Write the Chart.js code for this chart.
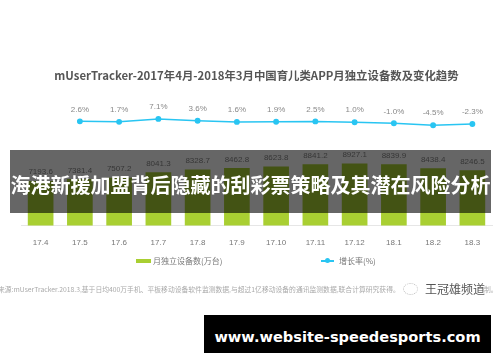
<!DOCTYPE html>
<html>
<head>
<meta charset="utf-8">
<script src="https://cdn.jsdelivr.net/npm/chart.js@4"></script>
<style>
html, body { margin: 0; padding: 0; background: #fff; }
#wrap { position: relative; width: 500px; height: 362px; overflow: hidden; font-family: "Noto Sans CJK SC", "Noto Sans", sans-serif; }
#grafica { position: absolute; left: 0; top: 0; filter: blur(0.5px); }
.abs { position: absolute; white-space: nowrap; }
#banda { left: 10px; top: 150px; width: 481px; height: 63px; background: rgba(0,0,0,0.6); }
#titular { left: 10px; top: 150px; width: 481px; height: 70px; line-height: 70px; text-align: center; color: #fff; font-size: 20px; font-weight: bold; }
#web { left: 204px; top: 315px; width: 287px; height: 38px; background: #000; color: #fff; text-align: center; font: bold 14.6px/43px "DejaVu Sans", sans-serif; }
.leyenda { top: 253px; height: 16px; line-height: 16px; font-size: 8px; color: #777; filter: blur(0.3px); }
#cajaBarra { left: 136px; top: 259px; width: 15px; height: 4px; background: #a9cf32; }
#lineaLey { left: 321px; top: 260px; width: 13px; height: 2px; background: #29c5f2; }
#puntoLey { left: 325px; top: 258px; width: 5px; height: 5px; border-radius: 50%; background: #29c5f2; }
.fuente { top: 284px; font-size: 6.8px; line-height: 10px; color: #aaa; filter: blur(0.4px); }
#marca { left: 425px; top: 281px; font-size: 12px; line-height: 16px; color: #555; filter: blur(0.4px); }
#icono { left: 403px; top: 283px; width: 13px; height: 10px; border: 1px dotted #bbb; border-radius: 50%; }
</style>
</head>
<body>
<div id="wrap">
    <canvas id="grafica" width="500" height="362"></canvas>
    <div class="abs" id="banda"></div>
    <div class="abs" id="titular">海港新援加盟背后隐藏的刮彩票策略及其潜在风险分析</div>
    <div class="abs" id="cajaBarra"></div>
    <div class="abs leyenda" style="left:153px">月独立设备数(万台)</div>
    <div class="abs" id="lineaLey"></div>
    <div class="abs" id="puntoLey"></div>
    <div class="abs leyenda" style="left:339px">增长率(%)</div>
    <div class="abs fuente" style="left:-2px">来源:mUserTracker.2018.3,基于日均400万手机、平板移动设备软件监测数据,与超过1亿移动设备的通讯监测数据,联合计算研究获得。</div>
    <div class="abs fuente" style="left:484px">制。</div>
    <div class="abs" id="icono"></div>
    <div class="abs" id="marca">王冠雄频道</div>
    <div class="abs" id="web">www.website-speedesports.com</div>
</div>
<script>
const meses = ["17.4", "17.5", "17.6", "17.7", "17.8", "17.9", "17.10", "17.11", "17.12", "18.1", "18.2", "18.3"];
const dispositivos = [7193.6, 7381.4, 7507.2, 8041.3, 8328.7, 8462.8, 8623.8, 8841.2, 8927.1, 8839.9, 8438.4, 8246.5];
const crecimiento = [null, 2.6, 1.7, 7.1, 3.6, 1.6, 1.9, 2.5, 1.0, -1.0, -4.5, -2.3];

// Etiquetas de valor encima de barras y puntos
const etiquetas = {
    id: "etiquetas",
    afterDatasetsDraw(chart) {
        const ctx = chart.ctx;
        ctx.save();
        ctx.textAlign = "center";
        ctx.textBaseline = "middle";
        ctx.font = '8px "Liberation Sans", sans-serif';
        ctx.fillStyle = "#888";
        chart.getDatasetMeta(1).data.forEach((el, i) => {
            ctx.fillText(dispositivos[i].toFixed(1), el.x, el.y - 9);
        });
        chart.getDatasetMeta(0).data.forEach((el, i) => {
            if (crecimiento[i] === null) return;
            ctx.fillText(crecimiento[i].toFixed(1) + "%", el.x, el.y - 12);
        });
        ctx.restore();
    }
};

new Chart(document.getElementById("grafica"), {
    data: {
        labels: meses,
        datasets: [
            {
                type: "line",
                label: "增长率(%)",
                data: crecimiento,
                yAxisID: "y1",
                borderColor: "#29c5f2",
                backgroundColor: "#29c5f2",
                borderWidth: 1.5,
                pointRadius: 2.2,
                tension: 0,
                order: 0
            },
            {
                type: "bar",
                label: "月独立设备数(万台)",
                data: dispositivos,
                yAxisID: "y",
                backgroundColor: "#a9cf32",
                barThickness: 25,
                order: 1
            }
        ]
    },
    options: {
        responsive: false,
        animation: false,
        layout: { padding: { left: 21, right: 8, top: 0, bottom: 109 } },
        plugins: {
            legend: { display: false },
            tooltip: { enabled: false },
            title: {
                display: true,
                text: "mUserTracker-2017年4月-2018年3月中国育儿类APP月独立设备数及变化趋势",
                color: "#555",
                font: { size: 11.4, weight: "bold", family: '"Noto Sans CJK SC", "Noto Sans", sans-serif' },
                padding: { top: 69, bottom: 19 }
            }
        },
        scales: {
            x: {
                grid: { display: false },
                border: { color: "#e6e6e6" },
                ticks: { color: "#777", font: { size: 8, family: '"Liberation Sans", sans-serif' }, padding: 5, maxRotation: 0, autoSkip: false }
            },
            y: { display: false, min: 2800, max: 15100 },
            y1: { display: false, min: -188, max: 38.6 }
        }
    },
    plugins: [etiquetas]
});
</script>
</body>
</html>
